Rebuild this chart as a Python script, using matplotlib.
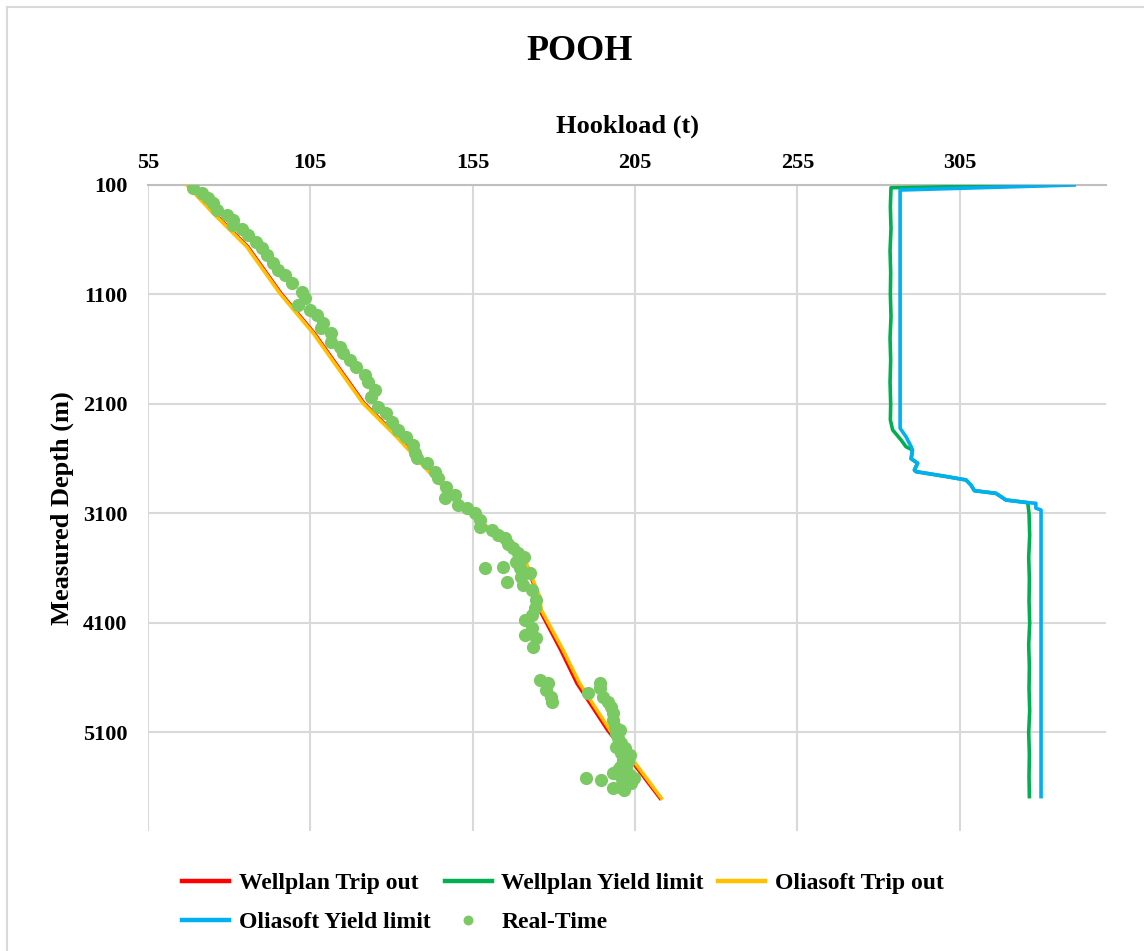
import matplotlib
matplotlib.use('Agg')
import matplotlib.pyplot as plt
from matplotlib.lines import Line2D

plt.rcParams['font.family'] = ['Liberation Serif', 'DejaVu Serif']
plt.rcParams['font.weight'] = 'bold'

# Trip out simulations (depth in m, hookload in t)
trip_depth = [100, 359, 663, 1089, 1454, 2093, 2398, 2824, 3220, 3555, 3860, 3981, 4346, 4651, 5077, 5351, 5701]
wellplan_trip = [67.3, 75.4, 85.7, 95.9, 106.2, 121.5, 131.8, 145.0, 159.2, 171.3, 175.3, 175.6, 182.1, 187.1, 196.5, 203.7, 212.7]
oliasoft_trip = [67.0, 75.1, 85.4, 95.6, 105.9, 121.2, 131.5, 144.8, 159.2, 171.5, 175.6, 176.1, 182.8, 187.9, 197.2, 204.3, 213.1]

# Yield limits
wp_yield_depth = [100, 125, 300, 500, 700, 900, 1100, 1300, 1500, 1700, 1900, 2100, 2246,
                  2337, 2429, 2490, 2520, 2600, 2641, 2703, 2718,
                  2762, 2794, 2840, 2892, 2916, 2977, 3001,
                  3100, 3300, 3500, 3700, 3900, 4100, 4300, 4500, 4700, 4900, 5100, 5300, 5500, 5686]
wp_yield_load = [336.5, 283.8, 283.6, 283.8, 283.5, 283.7, 283.6, 283.8, 283.5, 283.7, 283.5, 283.7, 283.6,
                 284.3, 286.9, 288.4, 290.4, 290.0, 292.0, 291.0, 291.5,
                 300.7, 306.9, 308.4, 309.5, 316.1, 319.2, 325.9,
                 326.3, 326.5, 326.2, 326.4, 326.3, 326.5, 326.2, 326.4, 326.3, 326.5, 326.2, 326.4, 326.3, 326.4]
ol_yield_depth = [100, 146, 2322, 2398, 2490, 2520, 2600, 2641, 2703, 2718, 2762, 2794, 2840, 2892,
                  2916, 2977, 3001, 3007, 3052, 3068, 5686]
ol_yield_load = [340.2, 286.6, 286.6, 288.4, 290.0, 290.4, 290.0, 292.0, 291.0, 291.5, 300.7, 306.9, 308.4, 309.5,
                 316.1, 319.2, 325.9, 328.4, 328.4, 330.0, 330.0]

# Real-time hookload readings
rt_load = [68.8, 71.5, 73.6, 75.1, 76.3, 79.2, 81.2, 81.1, 84.0, 85.9, 88.4, 90.0, 91.5, 93.6, 95.1,
           97.2, 99.2, 102.3, 103.3, 101.2, 104.8, 106.9, 108.9, 108.4, 111.5, 111.5, 114.1, 115.1,
           117.2, 119.2, 121.8, 122.8, 124.8, 123.8, 125.9, 128.4, 130.0, 132.0, 134.6, 136.6, 137.2,
           137.7, 140.8, 143.3, 144.3, 146.9, 149.5, 146.4, 150.5, 153.1, 155.6, 157.2, 157.2, 160.8,
           162.8, 164.8, 167.4, 168.9, 168.4, 169.5, 170.0, 170.5, 173.1, 174.6, 174.1, 173.1, 171.0,
           173.1, 171.0, 174.6, 173.6, 158.7, 164.3, 165.7, 175.6, 178.2, 177.7, 179.2, 179.5, 190.5,
           194.3, 194.1, 195.1, 196.6, 197.7, 198.2, 198.2, 198.7, 199.2, 200.8, 199.2, 200.8, 203.3,
           201.2, 200.2, 202.3, 198.2, 200.8, 204.8, 203.8, 198.2, 200.2, 189.8, 194.4, 202.3, 201.2,
           199.6, 201.8, 202.7, 199.6, 203.3, 201.5, 166.0, 170.8, 172.5, 200.4, 201.0]
rt_depth = [130, 170, 221, 267, 328, 374, 420, 465, 505, 557, 618, 678, 739, 815, 876,
            922, 998, 1074, 1135, 1196, 1242, 1287, 1363, 1409, 1454, 1531, 1577, 1637,
            1698, 1759, 1835, 1896, 1972, 2033, 2125, 2185, 2262, 2337, 2399, 2474, 2550,
            2596, 2641, 2718, 2778, 2855, 2931, 2961, 3022, 3052, 3098, 3159, 3220, 3251,
            3296, 3326, 3418, 3463, 3540, 3600, 3677, 3753, 3798, 3890, 3966, 4027, 4072,
            4148, 4209, 4240, 4316, 3600, 3586, 3723, 4620, 4651, 4712, 4773, 4818, 4742,
            4651, 4696, 4773, 4818, 4864, 4925, 4986, 5047, 5107, 5198, 5229, 5290, 5305,
            5351, 5413, 5427, 5473, 5503, 5519, 5565, 5610, 5595, 5519, 5533, 5579, 5533,
            5150, 5241, 5369, 5442, 5488, 5625, 3380, 3500, 3640, 5080, 5270]

x_ticks = [55, 105, 155, 205, 255, 305]
y_ticks = [100, 1100, 2100, 3100, 4100, 5100]

fig = plt.figure(figsize=(11.44, 9.51), dpi=100)
ax = fig.add_axes([148 / 1144, 1 - 831 / 951, (1106 - 148) / 1144, (831 - 185) / 951])

lw = 2.6
l1, = ax.plot(wellplan_trip, trip_depth, color='#FF0000', lw=lw, label='Wellplan Trip out', zorder=3)
l2, = ax.plot(wp_yield_load, wp_yield_depth, color='#00B050', lw=lw, label='Wellplan Yield limit', zorder=3)
l3, = ax.plot(oliasoft_trip, trip_depth, color='#FFC000', lw=lw, label='Oliasoft Trip out', zorder=4)
l4, = ax.plot(ol_yield_load, ol_yield_depth, color='#00B0F0', lw=lw, label='Oliasoft Yield limit', zorder=4)
l5, = ax.plot(rt_load, rt_depth, 'o', color='#7AC963', markersize=9.5, markeredgewidth=0,
              label='Real-Time', zorder=5)

ax.set_xlim(55, 350)
ax.set_ylim(6000, 100)
ax.set_xticks(x_ticks)
ax.set_yticks(y_ticks)
ax.xaxis.tick_top()
ax.xaxis.set_label_position('top')
ax.tick_params(length=0, labelsize=16)
ax.tick_params(axis='x', pad=9)
ax.tick_params(axis='y', pad=15)
ax.grid(True, color='#D9D9D9', lw=1.5)
ax.set_axisbelow(True)
for side in ['left', 'right', 'bottom']:
    ax.spines[side].set_visible(False)
ax.spines['top'].set_color('#BFBFBF')
ax.spines['top'].set_linewidth(1.5)

ax.set_xlabel('Hookload (t)', fontsize=19, fontweight='bold', labelpad=14)
ax.set_ylabel('Measured Depth (m)', fontsize=19, fontweight='bold', labelpad=6)
fig.text(0.507, 1 - 51 / 951, 'POOH', fontsize=26, fontweight='bold', ha='center', va='center')

# row-major order for the legend
handles = [l1, l4, l2, l5, l3]
leg = fig.legend(handles, [h.get_label() for h in handles], ncol=3, loc='center',
                 bbox_to_anchor=(0.492, 1 - 903 / 951), frameon=False, fontsize=17,
                 handlelength=2.0, handletextpad=0.4, columnspacing=0.6, labelspacing=0.75,
                 numpoints=1, markerscale=0.75)
for h in leg.legend_handles:
    if h.get_linestyle() != 'None':
        h.set_linewidth(3.2)

# chart frame
fig.add_artist(Line2D([7 / 1144, 1.0], [1 - 7 / 951, 1 - 7 / 951], color='#D9D9D9', lw=1.5,
                      transform=fig.transFigure))
fig.add_artist(Line2D([7 / 1144, 7 / 1144], [0.0, 1 - 7 / 951], color='#D9D9D9', lw=1.5,
                      transform=fig.transFigure))

fig.savefig('out.png', dpi=100)
